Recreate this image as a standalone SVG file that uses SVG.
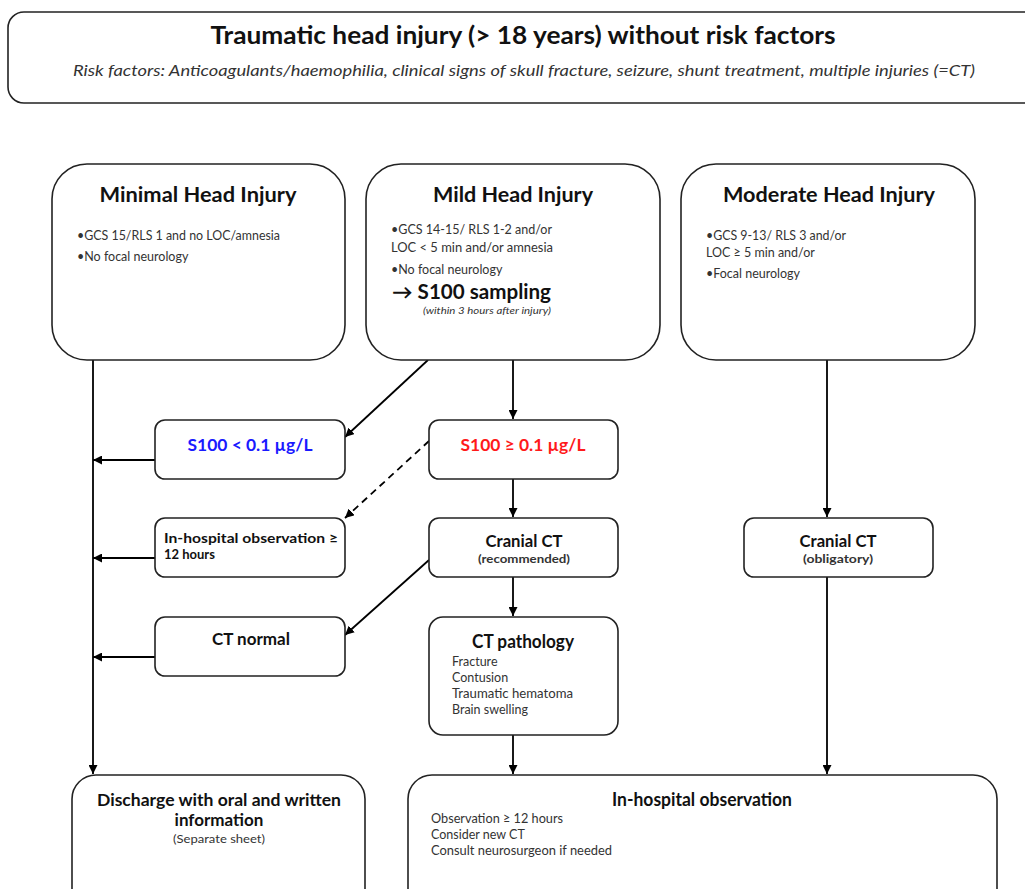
<svg xmlns="http://www.w3.org/2000/svg" width="1025" height="889" viewBox="0 0 1025 889">
<defs>
<style>
.box{fill:#fff;stroke:#222;stroke-width:1.6}
.t{font-family:Lato,"Liberation Sans",sans-serif;fill:#111}
.h{font-weight:bold;font-size:21px;text-anchor:middle}
.b{font-size:12.5px;fill:#333}
.g{fill:#333}
.blue{fill:#1a1aff}
.red{fill:#ff1a1a}
.c{stroke:#000;stroke-width:1.8;fill:none;marker-end:url(#ah)}
</style>
<marker id="ah" viewBox="0 0 10 10" refX="10" refY="5" markerWidth="9" markerHeight="9" markerUnits="userSpaceOnUse" orient="auto"><path d="M0,0 L10,5 L0,10 z" fill="#000"/></marker>
</defs>
<rect width="1025" height="889" fill="#fff"/>
<g id="header">
<rect class="box" x="8" y="12" width="1040" height="91" rx="16"/>
<text class="t" x="523" y="44" font-size="24" font-weight="bold" text-anchor="middle" textLength="625" lengthAdjust="spacingAndGlyphs">Traumatic head injury (&gt; 18 years) without risk factors</text>
<text class="t g" x="524" y="76" font-size="15" font-style="italic" text-anchor="middle" textLength="902" lengthAdjust="spacingAndGlyphs">Risk factors: Anticoagulants/haemophilia, clinical signs of skull fracture, seizure, shunt treatment, multiple injuries (=CT)</text>
</g>
<g id="connectors">
<line class="c" x1="93" y1="360" x2="93" y2="774"/>
<line class="c" x1="155" y1="460" x2="93" y2="460"/>
<line class="c" x1="155" y1="558" x2="93" y2="558"/>
<line class="c" x1="155" y1="657" x2="93" y2="657"/>
<line class="c" x1="428" y1="360" x2="345" y2="437"/>
<line class="c" x1="513" y1="360" x2="513" y2="419"/>
<line class="c" x1="429" y1="441" x2="345" y2="518" stroke-dasharray="7,5"/>
<line class="c" x1="513" y1="479" x2="513" y2="517"/>
<line class="c" x1="429" y1="560" x2="345" y2="635"/>
<line class="c" x1="513" y1="577" x2="513" y2="616"/>
<line class="c" x1="513" y1="735" x2="513" y2="774"/>
<line class="c" x1="827" y1="360" x2="827" y2="517"/>
<line class="c" x1="827" y1="577" x2="827" y2="774"/>
</g>
<g id="minimal">
<rect class="box" x="52" y="164" width="293" height="196" rx="35"/>
<text class="t h" x="198" y="202" textLength="197" lengthAdjust="spacingAndGlyphs">Minimal Head Injury</text>
<text class="t b" x="77" y="240" textLength="203" lengthAdjust="spacingAndGlyphs">•GCS 15/RLS 1 and no LOC/amnesia</text>
<text class="t b" x="77" y="261">•No focal neurology</text>
</g>
<g id="mild">
<rect class="box" x="366" y="164" width="294" height="196" rx="35"/>
<text class="t h" x="513" y="202" textLength="160" lengthAdjust="spacingAndGlyphs">Mild Head Injury</text>
<text class="t b" x="391" y="234" textLength="161" lengthAdjust="spacingAndGlyphs">•GCS 14-15/ RLS 1-2 and/or</text>
<text class="t b" x="391" y="252" textLength="162" lengthAdjust="spacingAndGlyphs">LOC &lt; 5 min and/or amnesia</text>
<text class="t b" x="391" y="274">•No focal neurology</text>
<text class="t" x="392" y="299" font-size="20" font-weight="bold" textLength="159" lengthAdjust="spacingAndGlyphs">→ S100 sampling</text>
<text class="t g" x="423" y="314" font-size="9.5" font-style="italic" textLength="128" lengthAdjust="spacingAndGlyphs">(within 3 hours after injury)</text>
</g>
<g id="moderate">
<rect class="box" x="681" y="164" width="294" height="196" rx="35"/>
<text class="t h" x="829" y="202" textLength="212" lengthAdjust="spacingAndGlyphs">Moderate Head Injury</text>
<text class="t b" x="706" y="240" textLength="140" lengthAdjust="spacingAndGlyphs">•GCS 9-13/ RLS 3 and/or</text>
<text class="t b" x="706" y="257">LOC ≥ 5 min and/or</text>
<text class="t b" x="706" y="278">•Focal neurology</text>
</g>
<g id="s100low">
<rect class="box" x="155" y="420" width="190" height="59" rx="10"/>
<text class="t blue" x="250" y="451" font-size="17" font-weight="bold" text-anchor="middle" textLength="125" lengthAdjust="spacingAndGlyphs">S100 &lt; 0.1 µg/L</text>
</g>
<g id="s100high">
<rect class="box" x="429" y="420" width="189" height="59" rx="10"/>
<text class="t red" x="523" y="451" font-size="17" font-weight="bold" text-anchor="middle" textLength="125" lengthAdjust="spacingAndGlyphs">S100 ≥ 0.1 µg/L</text>
</g>
<g id="obs12">
<rect class="box" x="155" y="518" width="190" height="59" rx="10"/>
<text class="t" x="164" y="543" font-size="13" font-weight="bold" textLength="174" lengthAdjust="spacingAndGlyphs">In-hospital observation ≥</text>
<text class="t" x="164" y="559" font-size="13" font-weight="bold">12 hours</text>
</g>
<g id="ctrec">
<rect class="box" x="429" y="518" width="189" height="59" rx="10"/>
<text class="t" x="524" y="547" font-size="17" font-weight="bold" text-anchor="middle" textLength="77" lengthAdjust="spacingAndGlyphs">Cranial CT</text>
<text class="t g" x="524" y="563" font-size="12" font-weight="bold" text-anchor="middle" textLength="92" lengthAdjust="spacingAndGlyphs">(recommended)</text>
</g>
<g id="ctnormal">
<rect class="box" x="155" y="617" width="190" height="59" rx="10"/>
<text class="t" x="251" y="645" font-size="17" font-weight="bold" text-anchor="middle" textLength="78" lengthAdjust="spacingAndGlyphs">CT normal</text>
</g>
<g id="ctpath">
<rect class="box" x="429" y="617" width="189" height="118" rx="14"/>
<text class="t" x="523" y="648" font-size="18" font-weight="bold" text-anchor="middle" textLength="102" lengthAdjust="spacingAndGlyphs">CT pathology</text>
<text class="t b" x="452" y="666">Fracture</text>
<text class="t b" x="452" y="682">Contusion</text>
<text class="t b" x="452" y="698" textLength="121" lengthAdjust="spacingAndGlyphs">Traumatic hematoma</text>
<text class="t b" x="452" y="714">Brain swelling</text>
</g>
<g id="ctobl">
<rect class="box" x="744" y="518" width="189" height="59" rx="10"/>
<text class="t" x="838" y="547" font-size="17" font-weight="bold" text-anchor="middle" textLength="77" lengthAdjust="spacingAndGlyphs">Cranial CT</text>
<text class="t g" x="838" y="563" font-size="12" font-weight="bold" text-anchor="middle" textLength="70" lengthAdjust="spacingAndGlyphs">(obligatory)</text>
</g>
<g id="discharge">
<rect class="box" x="72" y="775" width="293" height="140" rx="24"/>
<text class="t" x="219" y="806" font-size="17" font-weight="bold" text-anchor="middle" textLength="244" lengthAdjust="spacingAndGlyphs">Discharge with oral and written</text>
<text class="t" x="219" y="826" font-size="17" font-weight="bold" text-anchor="middle">information</text>
<text class="t g" x="219" y="843" font-size="12" text-anchor="middle" textLength="92" lengthAdjust="spacingAndGlyphs">(Separate sheet)</text>
</g>
<g id="inhospital">
<rect class="box" x="408" y="775" width="589" height="140" rx="24"/>
<text class="t" x="702" y="806" font-size="18" font-weight="bold" text-anchor="middle" textLength="180" lengthAdjust="spacingAndGlyphs">In-hospital observation</text>
<text class="t b" x="431" y="823" textLength="132" lengthAdjust="spacingAndGlyphs">Observation ≥ 12 hours</text>
<text class="t b" x="431" y="839">Consider new CT</text>
<text class="t b" x="431" y="855" textLength="181" lengthAdjust="spacingAndGlyphs">Consult neurosurgeon if needed</text>
</g>
</svg>
